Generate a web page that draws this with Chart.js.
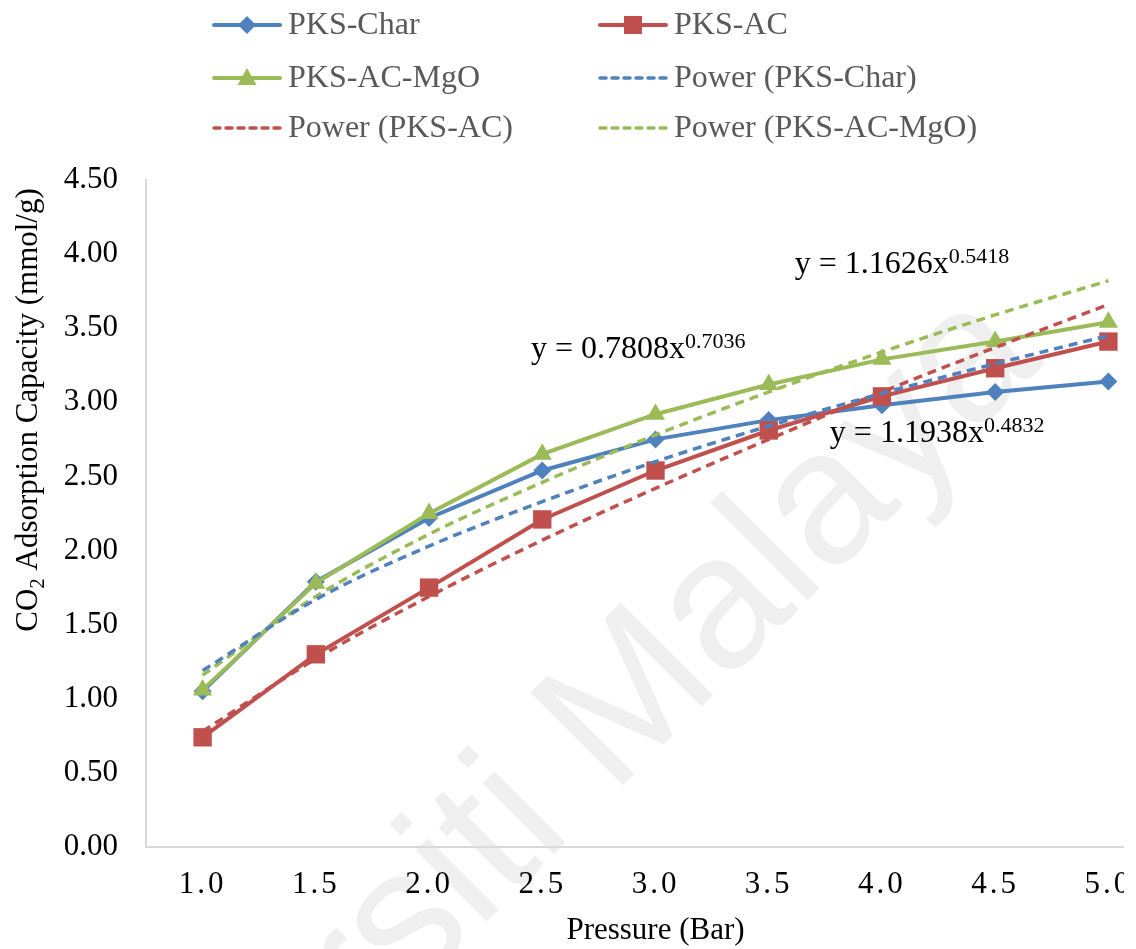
<!DOCTYPE html>
<html>
<head>
<meta charset="utf-8">
<title>CO2 adsorption capacity</title>
<script src="https://cdn.jsdelivr.net/npm/chart.js@4.4.0/dist/chart.umd.min.js"></script>
<style>
    html, body { margin: 0; padding: 0; background: #fff; overflow: hidden; }
    #wrap { width: 1124px; height: 949px; overflow: hidden; }
</style>
</head>
<body>
<div id="wrap"><canvas id="co2Chart" width="1180" height="949"></canvas></div>
<script>
// data
const pressures = ['1.0', '1.5', '2.0', '2.5', '3.0', '3.5', '4.0', '4.5', '5.0'];
const pksChar = [1.05, 1.79, 2.22, 2.54, 2.75, 2.88, 2.98, 3.07, 3.14];
const pksAC = [0.74, 1.30, 1.75, 2.21, 2.54, 2.81, 3.04, 3.23, 3.41];
const pksACMgO = [1.06, 1.78, 2.25, 2.65, 2.92, 3.12, 3.29, 3.41, 3.54];
const powerChar = [1.19, 1.67, 2.03, 2.33, 2.60, 2.84, 3.06, 3.26, 3.45];
const powerAC = [0.78, 1.27, 1.69, 2.07, 2.42, 2.75, 3.07, 3.37, 3.66];
const powerMgO = [1.16, 1.69, 2.11, 2.46, 2.78, 3.07, 3.34, 3.59, 3.82];
const yTicks = [0, 0.5, 1, 1.5, 2, 2.5, 3, 3.5, 4, 4.5];

const BLUE = '#4f81bd';
const RED = '#c0504d';
const GREEN = '#9bbb59';
const SERIF = '"Liberation Serif", "Times New Roman", serif';

const legendItems = [
    { text: 'PKS-Char', color: BLUE, marker: 'diamond', dashed: false },
    { text: 'PKS-AC', color: RED, marker: 'square', dashed: false },
    { text: 'PKS-AC-MgO', color: GREEN, marker: 'triangle', dashed: false },
    { text: 'Power (PKS-Char)', color: BLUE, marker: null, dashed: true },
    { text: 'Power (PKS-AC)', color: RED, marker: null, dashed: true },
    { text: 'Power (PKS-AC-MgO)', color: GREEN, marker: null, dashed: true }
];

// trendline equations, anchored in axis units (category index, value)
const equationLabels = [
    { coef: 'y = 0.7808x', exp: '0.7036', at: [2.90, 3.30] },
    { coef: 'y = 1.1626x', exp: '0.5418', at: [5.23, 3.87] },
    { coef: 'y = 1.1938x', exp: '0.4832', at: [5.54, 2.73] }
];

function drawMarker(ctx, shape, x, y, color) {
    ctx.fillStyle = color;
    ctx.beginPath();
    if (shape === 'diamond') {
        ctx.moveTo(x, y - 9); ctx.lineTo(x + 9, y); ctx.lineTo(x, y + 9); ctx.lineTo(x - 9, y);
    } else if (shape === 'square') {
        ctx.rect(x - 9, y - 9, 18, 18);
    } else if (shape === 'triangle') {
        ctx.moveTo(x, y - 10); ctx.lineTo(x + 9.5, y + 7); ctx.lineTo(x - 9.5, y + 7);
    }
    ctx.closePath();
    ctx.fill();
}

const watermarkPlugin = {
    id: 'watermark',
    beforeDraw(chart) {
        const ctx = chart.ctx;
        ctx.save();
        ctx.font = '190px "Liberation Sans", Arial, sans-serif';
        ctx.fillStyle = '#efefef';
        ctx.textBaseline = 'alphabetic';
        const lead = ctx.measureText('Universiti ').width;
        ctx.translate(612, 796);
        ctx.rotate(-Math.PI / 4);
        ctx.fillText('Universiti Malaya', -lead, 0);
        ctx.restore();
    }
};

const legendPlugin = {
    id: 'gridLegend',
    afterDraw(chart) {
        const ctx = chart.ctx;
        const colX = [212, 598];
        const rowY = [25, 78, 128];
        ctx.save();
        ctx.font = '32px ' + SERIF;
        ctx.textBaseline = 'middle';
        legendItems.forEach((item, i) => {
            const x = colX[i % 2];
            const y = rowY[Math.floor(i / 2)];
            ctx.strokeStyle = item.color;
            ctx.lineWidth = item.dashed ? 3.5 : 4;
            ctx.lineCap = 'round';
            ctx.setLineDash(item.dashed ? [6, 6] : []);
            ctx.beginPath();
            ctx.moveTo(x + 2, y);
            ctx.lineTo(x + 68, y);
            ctx.stroke();
            ctx.setLineDash([]);
            if (item.marker) drawMarker(ctx, item.marker, x + 35, y, item.color);
            ctx.fillStyle = '#595959';
            ctx.fillText(item.text, x + 76, y + 1);
        });
        ctx.restore();
    }
};

const annotationPlugin = {
    id: 'annotations',
    afterDraw(chart) {
        const ctx = chart.ctx;
        const xs = chart.scales.x;
        const ys = chart.scales.y;
        ctx.save();
        ctx.fillStyle = '#000';
        ctx.textBaseline = 'alphabetic';
        equationLabels.forEach(eq => {
            const x = xs.getPixelForValue(eq.at[0]);
            const y = ys.getPixelForValue(eq.at[1]);
            ctx.font = '32px ' + SERIF;
            ctx.fillText(eq.coef, x, y);
            const w = ctx.measureText(eq.coef).width;
            ctx.font = '22px ' + SERIF;
            ctx.fillText(eq.exp, x + w, y - 10);
        });

        // y axis title with subscript
        ctx.font = '31px ' + SERIF;
        const w1 = ctx.measureText('CO').width;
        const w3 = ctx.measureText(' Adsorption Capacity (mmol/g)').width;
        ctx.font = '21px ' + SERIF;
        const w2 = ctx.measureText('2').width;
        const total = w1 + w2 + w3;
        ctx.translate(37, 410);
        ctx.rotate(-Math.PI / 2);
        let tx = -total / 2;
        ctx.font = '31px ' + SERIF;
        ctx.fillText('CO', tx, 0);
        tx += w1;
        ctx.font = '21px ' + SERIF;
        ctx.fillText('2', tx, 7);
        tx += w2;
        ctx.font = '31px ' + SERIF;
        ctx.fillText(' Adsorption Capacity (mmol/g)', tx, 0);
        ctx.restore();
    },
    afterLayout(chart) {
        // spaced-out category labels like the original
        const xs = chart.scales.x;
        if (xs._spaced) return;
        const orig = xs.drawLabels.bind(xs);
        xs.drawLabels = function (area) {
            xs.ctx.save();
            xs.ctx.letterSpacing = '3px';
            orig(area);
            xs.ctx.restore();
        };
        xs._spaced = true;
    }
};

function seriesSet(label, data, color, style, radius, order) {
    return {
        label: label,
        data: data,
        borderColor: color,
        backgroundColor: color,
        borderWidth: 4,
        pointStyle: style,
        pointRadius: radius,
        pointBorderWidth: 0,
        pointBackgroundColor: color,
        tension: 0,
        order: order
    };
}

function trendSet(label, data, color) {
    return {
        label: label,
        data: data,
        borderColor: color,
        borderWidth: 3.5,
        borderDash: [9, 6],
        pointRadius: 0,
        cubicInterpolationMode: 'monotone',
        fill: false,
        order: 0
    };
}

const ctx = document.getElementById('co2Chart').getContext('2d');
const co2Chart = new Chart(ctx, {
    type: 'line',
    data: {
        labels: pressures,
        datasets: [
            seriesSet('PKS-Char', pksChar, BLUE, 'rectRot', 9, 3),
            seriesSet('PKS-AC', pksAC, RED, 'rect', 13, 2),
            seriesSet('PKS-AC-MgO', pksACMgO, GREEN, 'triangle', 11, 1),
            trendSet('Power (PKS-Char)', powerChar, BLUE),
            trendSet('Power (PKS-AC)', powerAC, RED),
            trendSet('Power (PKS-AC-MgO)', powerMgO, GREEN)
        ]
    },
    options: {
        responsive: false,
        animation: false,
        layout: { padding: { top: 180, right: 15, left: 0, bottom: 0 } },
        plugins: {
            legend: { display: false },
            tooltip: { enabled: false }
        },
        scales: {
            x: {
                offset: true,
                grid: { display: false, drawTicks: false },
                border: { display: true, color: '#d9d9d9', width: 2 },
                ticks: {
                    color: '#000',
                    font: { family: SERIF, size: 31 },
                    padding: 19,
                    maxRotation: 0,
                    autoSkip: false
                },
                title: {
                    display: true,
                    text: 'Pressure (Bar)',
                    color: '#000',
                    font: { family: SERIF, size: 31 },
                    padding: 0
                },
                afterFit: s => { s.height = 102; }
            },
            y: {
                min: 0,
                max: 4.5,
                grid: { display: false, drawTicks: false },
                border: { display: true, color: '#d9d9d9', width: 2 },
                ticks: {
                    color: '#000',
                    font: { family: SERIF, size: 31 },
                    padding: 28,
                    callback: v => Number(v).toFixed(2)
                },
                afterBuildTicks: s => { s.ticks = yTicks.map(v => ({ value: v })); },
                afterFit: s => { s.width = 146; }
            }
        }
    },
    plugins: [watermarkPlugin, legendPlugin, annotationPlugin]
});
</script>
</body>
</html>
